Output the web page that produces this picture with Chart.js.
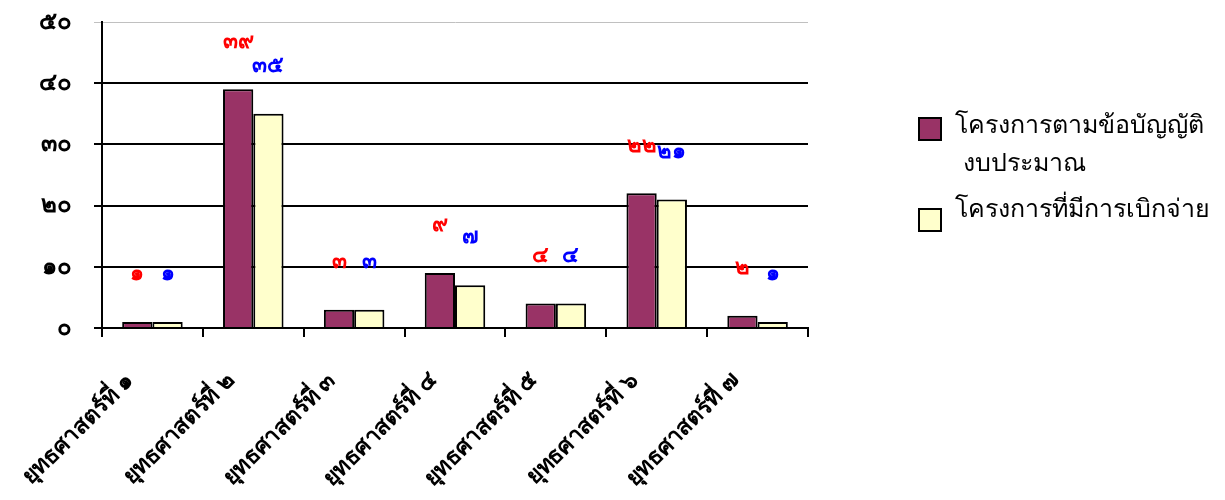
<!DOCTYPE html>
<html>
<head>
<meta charset="utf-8">
<script src="https://cdn.jsdelivr.net/npm/chart.js@4.4.1/dist/chart.umd.min.js"></script>
<style>
  body { margin: 0; background: #fff; }
  #wrap { position: relative; width: 1225px; height: 500px; }
  #legend { position: absolute; left: 918px; top: 104px; font-family: Tahoma, "Noto Sans", sans-serif; font-size: 25px; color: #000; }
  .item { position: relative; padding-left: 37px; line-height: 38px; }
  .box { position: absolute; left: 0; top: 13px; width: 20px; height: 20px; border: 2px solid #000; }
</style>
</head>
<body>
<div id="wrap">
  <canvas id="chart" width="1225" height="500"></canvas>
  <div id="legend"></div>
</div>
<script>
// ข้อมูล
const categories = ['ยุทธศาสตร์ที่ ๑', 'ยุทธศาสตร์ที่ ๒', 'ยุทธศาสตร์ที่ ๓', 'ยุทธศาสตร์ที่ ๔', 'ยุทธศาสตร์ที่ ๕', 'ยุทธศาสตร์ที่ ๖', 'ยุทธศาสตร์ที่ ๗'];
const seriesNames = ['โครงการตามข้อบัญญัติ งบประมาณ', 'โครงการที่มีการเบิกจ่าย'];
const planned = [1, 39, 3, 9, 4, 22, 2];
const disbursed = [1, 35, 3, 7, 4, 21, 1];
const yTicks = [0, 10, 20, 30, 40, 50];

const barColors = ['#993366', '#FFFFCC'];
const labelColors = ['#FF0000', '#0000FF'];

// แปลงเลขอารบิกเป็นเลขไทย
function thaiNum(n) {
    return String(n).replace(/[0-9]/g, d => '๐๑๒๓๔๕๖๗๘๙'[d]);
}

const FONT = 'Tahoma, "Noto Sans", sans-serif';

// ป้ายค่าบนแท่ง
const valueLabels = {
    id: 'valueLabels',
    afterDatasetsDraw(chart) {
        const ctx = chart.ctx;
        ctx.save();
        ctx.font = 'bold 22px ' + FONT;
        ctx.textAlign = 'center';
        ctx.textBaseline = 'middle';
        chart.data.datasets.forEach((ds, i) => {
            chart.getDatasetMeta(i).data.forEach((bar, j) => {
                ctx.fillStyle = labelColors[i];
                ctx.fillText(thaiNum(ds.data[j]), bar.x, bar.y - 48);
            });
        });
        ctx.restore();
    }
};

new Chart(document.getElementById('chart'), {
    type: 'bar',
    data: {
        labels: categories,
        datasets: [
            { label: seriesNames[0], data: planned, backgroundColor: barColors[0], borderColor: '#000', borderWidth: 2, borderSkipped: 'bottom' },
            { label: seriesNames[1], data: disbursed, backgroundColor: barColors[1], borderColor: '#000', borderWidth: 2, borderSkipped: 'bottom' }
        ]
    },
    options: {
        responsive: false,
        animation: false,
        layout: { padding: { top: 22, right: 417, left: 0, bottom: 0 } },
        datasets: { bar: { categoryPercentage: 0.6, barPercentage: 1 } },
        plugins: { legend: { display: false }, tooltip: { enabled: false } },
        scales: {
            x: {
                afterFit: s => { s.height = 172; },
                border: { color: '#000', width: 2 },
                grid: { offset: true, drawOnChartArea: false, color: '#000', lineWidth: 2, tickLength: 9 },
                ticks: { color: '#000', font: { family: FONT, size: 23, weight: 'bold' }, minRotation: 45, maxRotation: 45, labelOffset: -22, padding: 30 }
            },
            y: {
                min: 0, max: 50,
                afterFit: s => { s.width = 102; s.paddingTop = 0; s.paddingBottom = 0; },
                afterBuildTicks: s => { s.ticks = yTicks.map(v => ({ value: v })); },
                border: { color: '#000', width: 2 },
                grid: {
                    color: c => c.tick.value === 50 ? '#c0c0c0' : '#000',
                    lineWidth: c => c.tick.value === 50 ? 1 : 2,
                    tickLength: 8
                },
                ticks: { color: '#000', font: { family: FONT, size: 24, weight: 'bold' }, padding: 22, callback: v => thaiNum(v) }
            }
        }
    },
    plugins: [valueLabels]
});

// คำอธิบายสัญลักษณ์
const legend = document.getElementById('legend');
legend.innerHTML =
    '<div class="item"><span class="box" style="background:' + barColors[0] + '"></span>โครงการตามข้อบัญญัติ<br><span style="padding-left:8px">งบประมาณ</span></div>' +
    '<div class="item" style="margin-top:8px"><span class="box" style="background:' + barColors[1] + ';top:20px"></span>' + seriesNames[1] + '</div>';
</script>
</body>
</html>
